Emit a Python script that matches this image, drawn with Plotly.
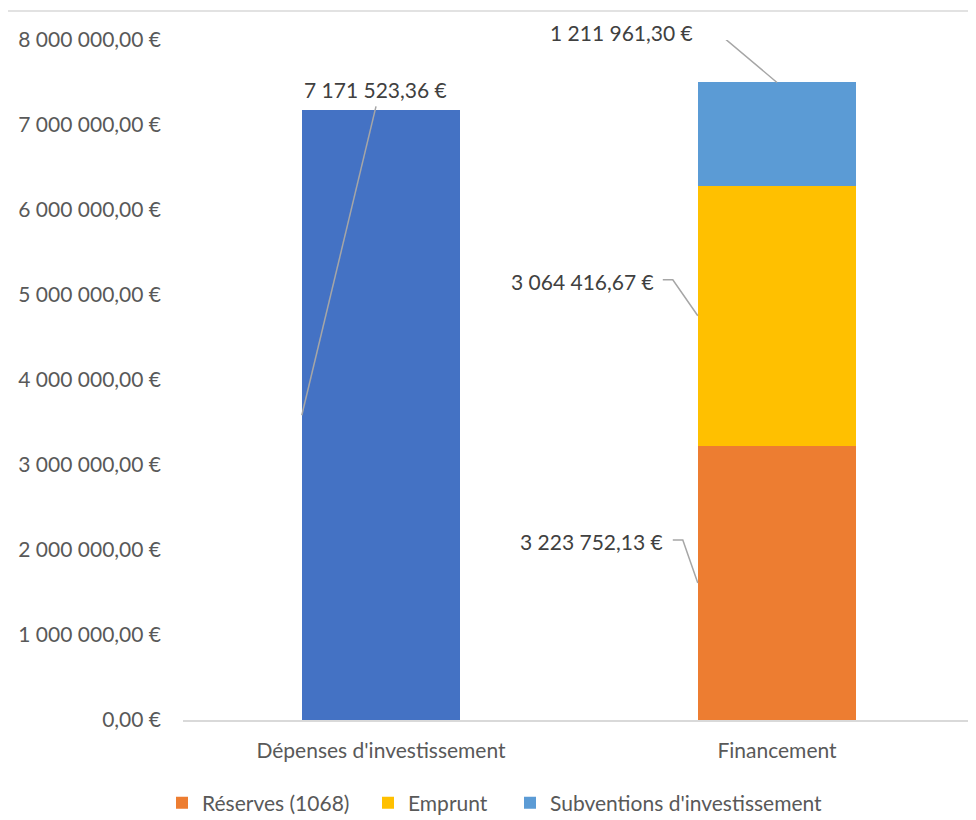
import plotly.graph_objects as go

# ---- data ----
categories = ["Dépenses d'investissement", "Financement"]
depenses = [7171523.36]
reserves = [3223752.13]
emprunt = [3064416.67]
subventions = [1211961.30]
series_names = ["Réserves (1068)", "Emprunt", "Subventions d'investissement"]
tick_vals = [0, 1e6, 2e6, 3e6, 4e6, 5e6, 6e6, 7e6, 8e6]
tick_text = ["0,00 €", "1 000 000,00 €", "2 000 000,00 €", "3 000 000,00 €",
             "4 000 000,00 €", "5 000 000,00 €", "6 000 000,00 €",
             "7 000 000,00 €", "8 000 000,00 €"]


def fmt(v):
    s = f"{v:,.2f}"
    s = s.replace(",", " ").replace(".", ",")
    return s + " €"


# ---- layout constants (page shows the figure offset by the 8px body margin) ----
W, H = 968, 816
ML, MR, MT, MB = 175, 1, 32, 104
PW, PH = W - ML - MR, H - MT - MB
XR = [-0.5, 1.5]
YR = [0, 8e6]
BW = 0.4


def dxp(px):
    return px * (XR[1] - XR[0]) / PW


def dyp(px):
    return px * (YR[1] - YR[0]) / PH


C_DEP = "#4472C4"
C_RES = "#ED7D31"
C_EMP = "#FFC000"
C_SUB = "#5B9BD5"
TXT = "#595959"
LBL = "#404040"
LEAD = "#A6A6A6"
FONT = "Lato"
FS = 21

fig = go.Figure()
fig.add_trace(go.Bar(x=[categories[0]], y=depenses, marker=dict(color=C_DEP, line=dict(width=0)),
                     width=BW, showlegend=False, name="Dépenses d'investissement",
                     hoverinfo="skip"))
fig.add_trace(go.Bar(x=[categories[1]], y=reserves, marker=dict(color=C_RES, line=dict(width=0)),
                     width=BW, name=series_names[0], legend="legend"))
fig.add_trace(go.Bar(x=[categories[1]], y=emprunt, marker=dict(color=C_EMP, line=dict(width=0)),
                     width=BW, name=series_names[1], legend="legend2"))
fig.add_trace(go.Bar(x=[categories[1]], y=subventions, marker=dict(color=C_SUB, line=dict(width=0)),
                     width=BW, name=series_names[2], legend="legend3"))

annotations = []
shapes = []

# Dépenses label
v = depenses[0]
annotations.append(dict(x=0, y=v, xref="x", yref="y", text=fmt(v), showarrow=False,
                        xanchor="center", yanchor="middle", xshift=-6, yshift=21,
                        font=dict(family=FONT, size=FS, color=LBL)))
shapes.append(dict(type="line", xref="x", yref="y",
                   x0=0 - dxp(5), y0=v + dyp(4), x1=0 - BW / 2, y1=v / 2,
                   line=dict(color=LEAD, width=1.5)))

# Financement labels
r, e, s = reserves[0], emprunt[0], subventions[0]
fin_labels = [
    # (value, anchor x, anchor y, text right offset px, text up px, elbow start px, elbow end px, elbow up px)
    (r, 1 - BW / 2, r / 2, -33, 41, -25, -15, 43),
    (e, 1 - BW / 2, r + e / 2, -42, 34, -35, -25, 36),
    (s, 1, r + e + s, -82, 50, -74, -60, 50.5),
]
for val, ax_, ay_, tx, ty, e0, e1, eu in fin_labels:
    annotations.append(dict(x=ax_, y=ay_, xref="x", yref="y", text=fmt(val), showarrow=False,
                            xanchor="right", yanchor="middle", xshift=tx, yshift=ty,
                            font=dict(family=FONT, size=FS, color=LBL)))
    path = (f"M {ax_ + dxp(e0)},{ay_ + dyp(eu)} L {ax_ + dxp(e1)},{ay_ + dyp(eu)} "
            f"L {ax_},{ay_}")
    shapes.append(dict(type="path", xref="x", yref="y", path=path,
                       line=dict(color=LEAD, width=1.5)))

# top frame line
shapes.append(dict(type="line", xref="paper", yref="paper",
                   x0=(0 - ML) / PW, x1=(W - ML) / PW,
                   y0=(H - MB - 3) / PH, y1=(H - MB - 3) / PH,
                   line=dict(color="#D9D9D9", width=1.5)))

leg_y = (H - MB - 795) / PH


def leg(xpx):
    return dict(orientation="h", x=(xpx - ML) / PW, xanchor="left", y=leg_y,
                yanchor="middle", font=dict(family=FONT, size=FS, color=TXT),
                itemwidth=30, bgcolor="rgba(0,0,0,0)")


fig.update_layout(
    width=W, height=H,
    margin=dict(l=ML, r=MR, t=MT, b=MB),
    barmode="stack",
    plot_bgcolor="white", paper_bgcolor="white",
    font=dict(family=FONT, size=FS, color=TXT),
    xaxis=dict(type="category", range=XR, showgrid=False, showline=True,
               linecolor="#D9D9D9", linewidth=1.5, ticks="", ticklabelstandoff=11,
               tickfont=dict(family=FONT, size=FS, color=TXT), zeroline=False),
    yaxis=dict(range=YR, tickvals=tick_vals, ticktext=tick_text, showgrid=False,
               showline=False, zeroline=False, ticks="", ticklabelstandoff=21,
               tickfont=dict(family=FONT, size=FS, color=TXT)),
    legend=leg(154),
    legend2=leg(360),
    legend3=leg(502),
    annotations=annotations,
    shapes=shapes,
    showlegend=True,
)

fig.write_html("out.html")
